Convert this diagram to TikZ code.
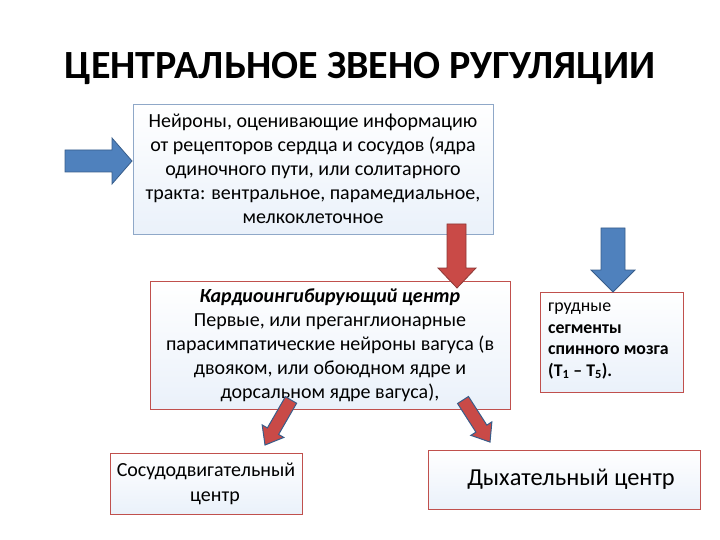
\documentclass[tikz,border=0pt]{standalone}
\usepackage{fontspec}
\setmainfont{Carlito}
\definecolor{arblue}{HTML}{4F81BD}
\definecolor{arblueline}{HTML}{385D8A}
\definecolor{arred}{HTML}{C94A47}
\definecolor{arredline}{HTML}{8C3836}
\definecolor{boxblue}{HTML}{8FA8C8}
\definecolor{boxred}{HTML}{C0504D}
\definecolor{boxbottom}{HTML}{EAF1FA}
\begin{document}
\begin{tikzpicture}[x=1pt,y=-1pt,
  box/.style={draw=boxred, line width=0.8pt, top color=white, bottom color=boxbottom,
    inner sep=0pt, align=center},
  bluearrow/.style={fill=arblue, draw=arblueline, line width=0.8pt, line join=miter},
  redarrow/.style={fill=arred, draw=arredline, line width=0.8pt},
  diagarrow/.style={fill=arred, draw=arblueline, line width=1pt}]
\useasboundingbox (0,0) rectangle (720,540);

\node[font=\fontsize{40}{48}\selectfont\bfseries] (title) at (360,68) {ЦЕНТРАЛЬНОЕ ЗВЕНО РУГУЛЯЦИИ};

\node[box, draw=boxblue, minimum width=360pt, minimum height=130pt,
      font=\fontsize{20}{24}\selectfont] (neur) at (313,169)
  {Нейроны, оценивающие информацию\\
   от рецепторов сердца и сосудов (ядра\\
   одиночного пути, или солитарного\\
   тракта: вентральное, парамедиальное,\\
   мелкоклеточное};

\node[box, minimum width=360pt, minimum height=128pt,
      font=\fontsize{20}{24}\selectfont] (cardio) at (330,345)
  {\textbf{\textit{Кардиоингибирующий центр}}\\
   Первые, или преганглионарные\\
   парасимпатические нейроны вагуса (в\\
   двояком, или обоюдном ядре и\\
   дорсальном ядре вагуса),};

\node[box, minimum width=143pt, minimum height=100pt] (seg) at (611.5,342) {};
\node[anchor=west, align=left, inner sep=0pt,
      font=\fontsize{17.8}{21.5}\selectfont] (segtext) at (548,341)
  {грудные\\
   \textbf{сегменты}\\
   \textbf{спинного мозга}\\
   \textbf{(Т\textsubscript{1} – Т\textsubscript{5}).}};

\node[box, minimum width=192pt, minimum height=61pt,
      font=\fontsize{20}{25}\selectfont] (vaso) at (206,483.5)
  {Сосудодвигательный\\ \hspace*{18pt}центр};

\node[box, minimum width=272pt, minimum height=59pt,
      font=\fontsize{24.4}{28}\selectfont] (resp) at (564,479.5)
  {\hspace*{14pt}Дыхательный центр};

% left blue arrow
\draw[bluearrow] (65,150) -- (112,150) -- (112,138) -- (132,161) -- (112,184) -- (112,172) -- (65,172) -- cycle;
% red down arrow
\draw[redarrow] (447,224) -- (466,224) -- (466,268) -- (476,268) -- (457,288) -- (438,268) -- (447,268) -- cycle;
% blue down arrow
\draw[bluearrow] (601,228) -- (625,228) -- (625,270) -- (635,270) -- (613,292) -- (591,270) -- (601,270) -- cycle;
% diagonal arrows
\begin{scope}[shift={(291,400)}, rotate=240]
  \draw[diagarrow] (0,-6.5) -- (36,-6.5) -- (36,-12.5) -- (52,0) -- (36,12.5) -- (36,6.5) -- (0,6.5) -- cycle;
\end{scope}
\begin{scope}[shift={(463,400)}, rotate=-57.3]
  \draw[diagarrow] (0,-6.5) -- (34,-6.5) -- (34,-12.5) -- (50,0) -- (34,12.5) -- (34,6.5) -- (0,6.5) -- cycle;
\end{scope}
\end{tikzpicture}
\end{document}
